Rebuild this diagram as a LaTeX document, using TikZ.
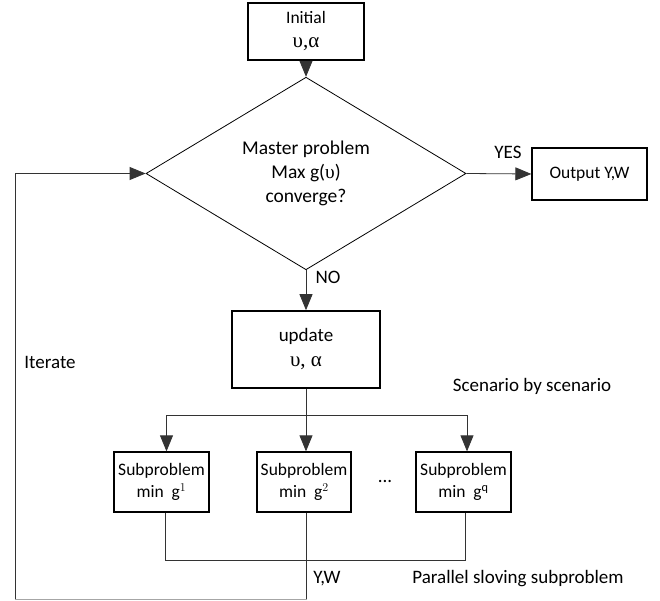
\documentclass[tikz,border=0pt]{standalone}
\usepackage{fontspec}
\setmainfont{Carlito}
\newfontfamily\grk{Liberation Serif}
\usetikzlibrary{shapes.geometric,arrows.meta}
\begin{document}
\begin{tikzpicture}[x=1pt,y=-1pt,
  box/.style={draw=black,line width=1.6pt,rectangle,inner sep=0pt,align=center,font=\fontsize{17.5}{22}\selectfont},
  conn/.style={draw=black!80,line width=0.8pt},
  arr/.style={conn,-{Triangle[length=16pt,width=13pt]}},
  lbl/.style={inner sep=0pt,font=\fontsize{19}{23}\selectfont}]
\useasboundingbox (0,0) rectangle (660,601);
\node[box,minimum width=116pt,minimum height=57pt] (init) at (306,31.5) {Initial\\[2pt]{\grk\fontsize{21}{24}\selectfont υ,α}};
\node[draw=black,line width=0.8pt,diamond,inner sep=0pt,minimum width=320pt,minimum height=172pt,align=center,font=\fontsize{19.5}{24}\selectfont] (dia) at (306,173.5) {Master problem\\Max g({\grk υ})\\converge?};
\node[box,line width=1.3pt,minimum width=115pt,minimum height=52pt] (out) at (589.5,174) {Output Y,W};
\node[box,minimum width=148pt,minimum height=77pt,font=\fontsize{19}{23}\selectfont] (upd) at (306,349.5) {update\\[2pt]{\grk\fontsize{21}{24}\selectfont υ, α}};
\node[box,line width=1.3pt,minimum width=95pt,minimum height=60pt] (s1) at (161.5,482) {Subproblem\\min~~$\mathrm{g}^{1}$};
\node[box,line width=1.3pt,minimum width=94pt,minimum height=60pt] (s2) at (304,482) {Subproblem\\min~~$\mathrm{g}^{2}$};
\node[box,line width=1.3pt,minimum width=95pt,minimum height=60pt] (s3) at (463.5,482) {Subproblem\\min~~$\mathrm{g}^{\mathrm{q}}$};
\node[lbl] (dots) at (385,481) {...};
\node[lbl] (yes) at (508,152) {YES};
\node[lbl] (no) at (328,277) {NO};
\node[lbl] (iter) at (50,362) {Iterate};
\node[lbl] (scen) at (532,386) {Scenario by scenario};
\node[lbl] (yw) at (327,579) {Y,W};
\node[lbl] (par) at (518,579) {Parallel sloving subproblem};
% coordinates
\coordinate (b1) at (166.5,415);
\coordinate (b2) at (306,415);
\coordinate (b3) at (467,415);
\coordinate (j1) at (165,560);
\coordinate (j2) at (306.5,560);
\coordinate (j3) at (465,560);
\coordinate (bot) at (306.5,599);
\coordinate (lb) at (15,599);
\coordinate (lt) at (15,173.5);
% connectors
\draw[arr] (init) -- (dia.north);
\draw[arr] (dia.east) -- (out.west);
\draw[arr] (dia.south) -- (upd.north);
\draw[conn] (upd.south) -- (b2);
\draw[conn] (b1) -- (b3);
\draw[arr] (b1) -- (b1 |- s1.north);
\draw[arr] (b2) -- (b2 |- s2.north);
\draw[arr] (b3) -- (b3 |- s3.north);
\draw[conn] (j1 |- s1.south) -- (j1) -- (j3) -- (j3 |- s3.south);
\draw[conn] (j2 |- s2.south) -- (bot);
\draw[draw=black!35,line width=0.8pt] (bot) -- (lb);
\draw[arr] (lb) -- (lt) -- (dia.west);
\end{tikzpicture}
\end{document}
